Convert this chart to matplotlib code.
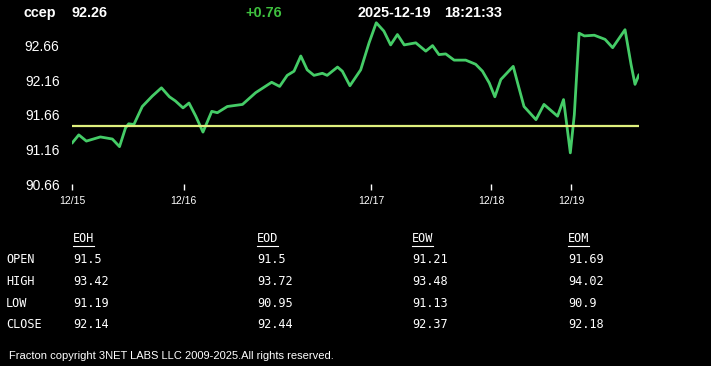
import matplotlib
matplotlib.use("Agg")
import matplotlib.pyplot as plt

# header
symbol = "ccep"
last_price = "92.26"
change = "+0.76"
stamp_date = "2025-12-19"
stamp_time = "18:21:33"

# intraday trace (sample index, price)
idx = [0, 1.7, 3.6, 7.1, 10.1, 11.9, 13.4, 14.2, 15.5, 17.6, 20.1, 22.4, 24.4, 25.9,
       27.8, 29.3, 31.0, 32.8, 35.0, 36.4, 38.9, 42.7, 46.0, 50.0, 52.0, 53.9, 55.6,
       57.3, 58.9, 60.6, 62.7, 63.9, 66.5, 67.7, 69.6, 72.3, 74.4, 76.2, 78.1, 79.8,
       81.5, 83.2, 86.1, 88.6, 90.3, 91.9, 93.6, 95.7, 98.6, 101.1, 102.8, 104.5,
       105.9, 107.4, 110.5, 111.6, 113.2, 116.2, 118.2, 121.6, 123.1, 123.9, 124.8,
       125.8, 127.0, 128.3, 130.8, 133.5, 135.4, 138.5, 140.0, 141.0, 142.0]
price = [91.25, 91.37, 91.28, 91.34, 91.31, 91.20, 91.47, 91.53, 91.52, 91.78, 91.93,
         92.05, 91.92, 91.86, 91.76, 91.83, 91.64, 91.41, 91.71, 91.69, 91.78, 91.81,
         91.98, 92.13, 92.07, 92.23, 92.29, 92.51, 92.31, 92.23, 92.26, 92.23, 92.35,
         92.29, 92.08, 92.31, 92.70, 92.99, 92.87, 92.67, 92.82, 92.67, 92.70, 92.58,
         92.66, 92.53, 92.54, 92.45, 92.45, 92.39, 92.29, 92.12, 91.92, 92.17, 92.36,
         92.12, 91.78, 91.59, 91.81, 91.64, 91.88, 91.52, 91.11, 91.66, 92.84, 92.80,
         92.81, 92.75, 92.63, 92.89, 92.39, 92.10, 92.24]
open_price = 91.5

day_idx = [0, 28, 75, 105, 125]
day_labels = ["12/15", "12/16", "12/17", "12/18", "12/19"]
y_ticks = [90.66, 91.16, 91.66, 92.16, 92.66]

# summary table
periods = ["EOH", "EOD", "EOW", "EOM"]
rows = ["OPEN", "HIGH", "LOW", "CLOSE"]
opens = ["91.5", "91.5", "91.21", "91.69"]
highs = ["93.42", "93.72", "93.48", "94.02"]
lows = ["91.19", "90.95", "91.13", "90.9"]
closes = ["92.14", "92.44", "92.37", "92.18"]

W, H = 711, 366
fig = plt.figure(figsize=(W / 100, H / 100), dpi=100, facecolor="black")

def fx(px):
    return px / W

def fy(py):
    return 1 - py / H

ax = fig.add_axes([fx(72), fy(184), fx(639) - fx(72), fy(11) - fy(184)])
ax.set_facecolor("black")
ax.plot(idx, price, color="#45cc67", lw=2, solid_joinstyle="round", solid_capstyle="round")
ax.hlines(open_price, idx[0], idx[-1], color="#dff07e", lw=1.6)
ax.set_xlim(0, 142)
ax.set_ylim(90.66, 93.16)
ax.set_yticks(y_ticks)
ax.set_yticklabels([f"{v:.2f}" for v in y_ticks], family="Liberation Sans", fontsize=10)
ax.set_xticks(day_idx)
ax.set_xticklabels(day_labels, family="Liberation Sans", fontsize=7.5)
ax.tick_params(axis="y", length=0, pad=9, colors="white")
ax.tick_params(axis="x", length=4, width=1, pad=5, colors="white", direction="out")
for s in ax.spines.values():
    s.set_visible(False)

hdr = dict(family="Liberation Sans", fontweight="bold", fontsize=10.4, va="baseline")
fig.text(fx(24), fy(17), symbol, color="white", **hdr)
fig.text(fx(72), fy(17), last_price, color="white", **hdr)
fig.text(fx(245), fy(17), change, color="#3fc13f", **hdr)
fig.text(fx(358), fy(17), stamp_date, color="white", **hdr)
fig.text(fx(444), fy(17), stamp_time, color="white", **hdr)

mono = dict(family="DejaVu Sans Mono", fontsize=8.6, color="white", va="baseline")
col_x = [73, 257, 412, 568]
head_txt = []
for cx, p in zip(col_x, periods):
    head_txt.append(fig.text(fx(cx), fy(242), p, **mono))
row_y = [263, 285, 307, 328]
for ry, name, vals in zip(row_y, rows, [opens, highs, lows, closes]):
    fig.text(fx(6), fy(ry), name, **mono)
    for cx, v in zip(col_x, vals):
        fig.text(fx(cx), fy(ry), v, **mono)

fig.canvas.draw()
r = fig.canvas.get_renderer()
for t in head_txt:
    bb = t.get_window_extent(r)
    yline = bb.y0 - 1
    fig.add_artist(plt.Line2D([bb.x0 / W, bb.x1 / W], [yline / H, yline / H],
                              color="white", lw=0.8))

fig.text(fx(9), fy(359), "Fracton copyright 3NET LABS LLC 2009-2025.All rights reserved.",
         family="Liberation Sans", fontsize=8, color="white", va="baseline")

fig.savefig("out.png", dpi=100, facecolor="black")
